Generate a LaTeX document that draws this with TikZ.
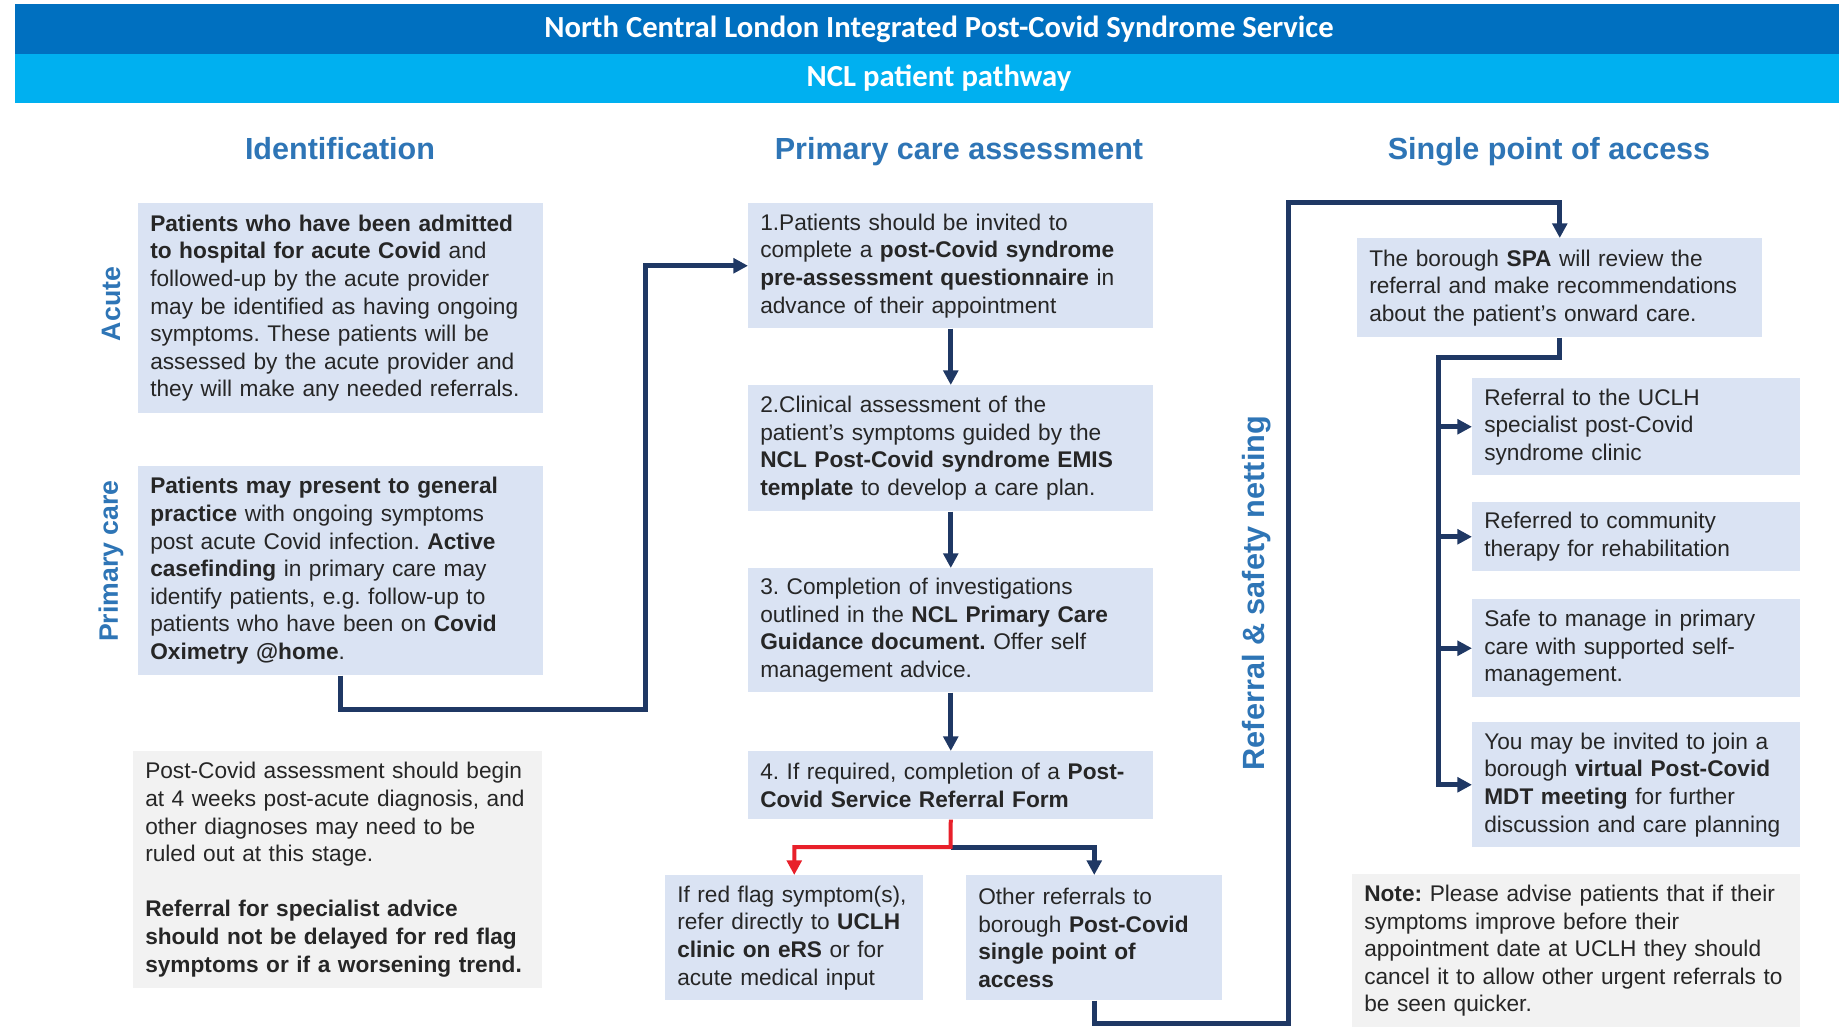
\documentclass[tikz,border=0pt]{standalone}
\usepackage{fontspec}
\setmainfont{Liberation Sans}
\newfontfamily\bannerfont{Carlito}
\usepackage{xcolor}
\usepackage{tikz}
\usetikzlibrary{positioning}
\usetikzlibrary{arrows.meta}
\frenchspacing

\definecolor{bannerdark}{HTML}{0070C0}
\definecolor{bannerlight}{HTML}{00B0F0}
\definecolor{headblue}{HTML}{2E75B6}
\definecolor{boxfill}{HTML}{DAE3F3}
\definecolor{notefill}{HTML}{F2F2F2}
\definecolor{navy}{HTML}{1F3864}
\definecolor{flagred}{HTML}{E8202A}
\definecolor{bodytext}{HTML}{262626}

\tikzset{
    banner/.style={minimum width=1386pt, minimum height=37.5pt, inner sep=0pt, text=white,
        font=\bannerfont\bfseries\fontsize{23pt}{26pt}\selectfont},
    heading/.style={anchor=base, text=headblue, font=\bfseries\fontsize{22.9pt}{26pt}\selectfont},
    sidelabel/.style={text=headblue, rotate=90, font=\bfseries\fontsize{20pt}{24pt}\selectfont},
    infobox/.style={fill=boxfill, anchor=north west, align=left, inner xsep=9pt, inner ysep=0pt,
        text=bodytext, font=\fontsize{17pt}{20.7pt}\selectfont},
    notebox/.style={infobox, fill=notefill},
    flow/.style={draw=navy, line width=3.75pt, -{Triangle[length=11pt,width=11pt]}},
    link/.style={flow, -},
    redflow/.style={flow, draw=flagred, line width=3pt},
}

\begin{document}
\begin{tikzpicture}[x=0.75pt, y=-0.75pt]
    \fill[white] (0,0) rectangle (1839,1027);
    \useasboundingbox (0,0) rectangle (1839,1027);

    % Banner
    \node[banner, fill=bannerdark] (title) at (939,29) {North Central London Integrated Post-Covid Syndrome Service};
    \node[banner, fill=bannerlight, minimum height=36.75pt] (subtitle) at (939,78.5) {NCL patient pathway};

    % Column headings
    \node[heading] (hIdent) at (340,160) {Identification};
    \node[heading] (hAssess) at (959,160) {Primary care assessment};
    \node[heading] (hAccess) at (1549,160) {Single point of access};

    % Side labels
    \node[sidelabel] (lAcute) at (111,304) {Acute};
    \node[sidelabel] (lPrimary) at (111,561) {Primary care};
    \node[sidelabel, font=\bfseries\fontsize{23pt}{26pt}\selectfont] (lSafety) at (1257,593) {Referral \& safety netting};

    % Identification
    \node[infobox, text width=285.75pt, minimum height=157.5pt] (acute) at (138,203) {%
        \textbf{Patients who have been admitted}\\
        \textbf{to hospital for acute Covid} and\\
        followed-up by the acute provider\\
        may be identified as having ongoing\\
        symptoms. These patients will be\\
        assessed by the acute provider and\\
        they will make any needed referrals.};
    \node[infobox, text width=285.75pt, minimum height=156.75pt] (prim) at (138,466) {%
        \textbf{Patients may present to general}\\
        \textbf{practice} with ongoing symptoms\\
        post acute Covid infection. \textbf{Active}\\
        \textbf{casefinding} in primary care may\\
        identify patients, e.g. follow-up to\\
        patients who have been on \textbf{Covid}\\
        \textbf{Oximetry @home}.};
    \node[notebox, text width=288.75pt, minimum height=177.75pt] (leftnote) at (133,751) {%
        Post-Covid assessment should begin\\
        at 4 weeks post-acute diagnosis, and\\
        other diagnoses may need to be\\
        ruled out at this stage.\\[20.7pt]
        \textbf{Referral for specialist advice}\\
        \textbf{should not be delayed for red flag}\\
        \textbf{symptoms or if a worsening trend.}};

    % Primary care assessment
    \node[infobox, text width=285.75pt, minimum height=93.75pt] (step1) at (748,203) {%
        1.Patients should be invited to\\
        complete a \textbf{post-Covid syndrome}\\
        \textbf{pre-assessment questionnaire} in\\
        advance of their appointment};
    \node[infobox, text width=285.75pt, minimum height=94.5pt] (step2) at (748,385) {%
        2.Clinical assessment of the\\
        patient's symptoms guided by the\\
        \textbf{NCL Post-Covid syndrome EMIS}\\
        \textbf{template} to develop a care plan.};
    \node[infobox, text width=285.75pt, minimum height=93pt] (step3) at (748,568) {%
        3. Completion of investigations\\
        outlined in the \textbf{NCL Primary Care}\\
        \textbf{Guidance document.} Offer self\\
        management advice.};
    \node[infobox, text width=285.75pt, minimum height=51pt] (step4) at (748,751) {%
        4. If required, completion of a \textbf{Post-}\\
        \textbf{Covid Service Referral Form}};
    \node[infobox, text width=175.5pt, minimum height=93.75pt] (redflag) at (665,875) {%
        If red flag symptom(s),\\
        refer directly to \textbf{UCLH}\\
        \textbf{clinic on eRS} or for\\
        acute medical input};
    \node[infobox, text width=174pt, minimum height=93.75pt] (other) at (966,875) {%
        Other referrals to\\
        borough \textbf{Post-Covid}\\
        \textbf{single point of}\\
        \textbf{access}};

    % Single point of access
    \node[infobox, text width=285.75pt, minimum height=74.25pt] (spa) at (1357,238) {%
        The borough \textbf{SPA} will review the\\
        referral and make recommendations\\
        about the patient's onward care.};
    \node[infobox, text width=228pt, minimum height=72.75pt] (opt1) at (1472,378) {%
        Referral to the UCLH\\
        specialist post-Covid\\
        syndrome clinic};
    \node[infobox, text width=228pt, minimum height=51.75pt] (opt2) at (1472,502) {%
        Referred to community\\
        therapy for rehabilitation};
    \node[infobox, text width=228pt, minimum height=73.5pt] (opt3) at (1472,599) {%
        Safe to manage in primary\\
        care with supported self-\\
        management.};
    \node[infobox, text width=228pt, minimum height=93.75pt] (opt4) at (1472,722) {%
        You may be invited to join a\\
        borough \textbf{virtual Post-Covid}\\
        \textbf{MDT meeting} for further\\
        discussion and care planning};
    \node[notebox, text width=318pt, minimum height=114.75pt] (rightnote) at (1352,874) {%
        \textbf{Note:} Please advise patients that if their\\
        symptoms improve before their\\
        appointment date at UCLH they should\\
        cancel it to allow other urgent referrals to\\
        be seen quicker.};

    % Edges
    \coordinate (primTurn) at (645,709);
    \draw[flow] (prim.south) |- (primTurn) |- (step1.west);
    \draw[flow] (step1.south) -- (step2.north);
    \draw[flow] (step2.south) -- (step3.north);
    \draw[flow] (step3.south) -- (step4.north);
    \coordinate (split) at (950.5,847);
    \draw[flow] (split) -| (other.north);
    \draw[redflow] (step4.south) -- (split) -| (redflag.north);
    \coordinate (loopLow) at (1288,1023);
    \coordinate (loopHigh) at (1288,203);
    \draw[flow] (other.south) |- (loopLow) -- (loopHigh) -| (spa.north);
    \coordinate (trunk) at (1438,357);
    \draw[flow] (spa.south) |- (trunk) |- (opt4.west);
    \foreach \opt in {opt1,opt2,opt3}
        \draw[flow] (trunk |- \opt.west) -- (\opt.west);
\end{tikzpicture}
\end{document}
